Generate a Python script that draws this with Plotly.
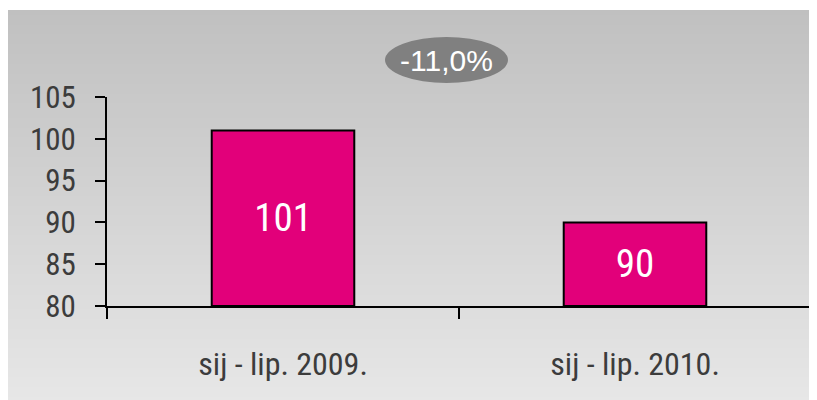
import plotly.graph_objects as go

categories = ["sij - lip. 2009.", "sij - lip. 2010."]
values = [101, 90]
y_ticks = [80, 85, 90, 95, 100, 105]
change_label = "-11,0%"

FONT = "Liberation Sans Narrow, Roboto Condensed, Arial Narrow, Liberation Sans, sans-serif"
AXIS_MIN, AXIS_MAX = 80, 105

fig = go.Figure()
fig.add_trace(go.Bar(
    x=categories,
    y=[v - AXIS_MIN for v in values],
    base=AXIS_MIN,
    text=[str(v) for v in values],
    textposition="inside",
    insidetextanchor="middle",
    textangle=0,
    textfont=dict(family=FONT, size=39, color="white"),
    marker=dict(color="#e2007a", line=dict(color="black", width=2)),
    width=0.405,
    hoverinfo="skip",
))

# figure geometry (figure pixel coordinates; page is offset by 8px body margin)
W, H = 809, 392
L, T = 99, 89
pw, ph = 704, 209
R, B = W - L - pw, H - T - ph

def px_x(px):
    return (px - L) / pw

def px_y(py):
    return (T + ph - py) / ph

shapes = []
n = 80
top_px, bot_px = 2, H + 2
step = (bot_px - top_px) / n
for i in range(n):
    y0 = top_px + step * i
    y1 = y0 + step + 1.0  # overlap to avoid seams
    c = int(round(192 + (231 - 192) * (i + 0.5) / n))
    shapes.append(dict(type="rect", xref="paper", yref="paper",
                       x0=px_x(-2), x1=px_x(W + 2), y0=px_y(y1), y1=px_y(y0),
                       fillcolor=f"rgb({c},{c},{c})", line=dict(width=0),
                       layer="below"))
# ellipse behind change label
shapes.append(dict(type="circle", xref="paper", yref="paper",
                   x0=px_x(377), x1=px_x(500), y0=px_y(75), y1=px_y(29),
                   fillcolor="#808080", line=dict(width=0), layer="above"))

fig.update_layout(
    width=W, height=H,
    margin=dict(l=L, r=R, t=T, b=B),
    paper_bgcolor="white",
    plot_bgcolor="rgba(0,0,0,0)",
    showlegend=False,
    shapes=shapes,
    font=dict(family=FONT, color="#3c3c3c", size=31),
    xaxis=dict(
        type="category",
        showline=True, linecolor="black", linewidth=2,
        ticks="outside", tickson="boundaries", ticklen=11, tickwidth=2, tickcolor="black",
        tickfont=dict(family=FONT, size=32, color="#3c3c3c"),
        ticklabelstandoff=29,
        showgrid=False, zeroline=False,
    ),
    yaxis=dict(
        range=[AXIS_MIN, AXIS_MAX],
        tickvals=y_ticks,
        showline=True, linecolor="black", linewidth=2,
        ticks="outside", ticklen=10, tickwidth=2, tickcolor="black",
        tickfont=dict(family=FONT, size=31, color="#3c3c3c"),
        ticklabelstandoff=13,
        showgrid=False, zeroline=False,
    ),
    annotations=[dict(
        text=change_label, xref="paper", yref="paper",
        x=px_x(438.5), y=px_y(52), showarrow=False,
        font=dict(family="Liberation Sans, Arial, sans-serif", size=30, color="white"),
        xanchor="center", yanchor="middle",
    )],
)

fig.write_html("out.html", default_width=f"{W}px", default_height=f"{H}px")
